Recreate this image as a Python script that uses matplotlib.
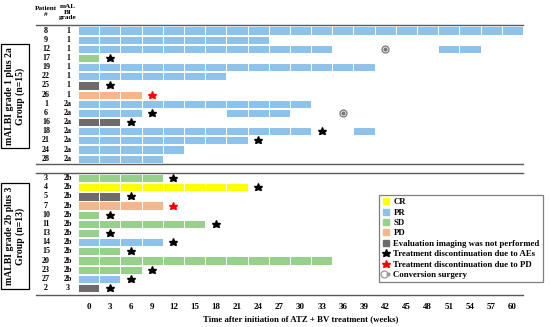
import matplotlib
matplotlib.use("Agg")
import matplotlib.pyplot as plt
import matplotlib.transforms as mtransforms
from matplotlib.lines import Line2D
from matplotlib.legend_handler import HandlerTuple
import numpy as np

# rows, top to bottom
patients_g1 = ["8", "9", "12", "17", "19", "22", "25", "26", "1", "6", "16", "18", "21", "24", "28"]
grades_g1 = ["1", "1", "1", "1", "1", "1", "1", "1", "2a", "2a", "2a", "2a", "2a", "2a", "2a"]
patients_g2 = ["3", "4", "5", "7", "10", "11", "13", "14", "15", "20", "23", "27", "2"]
grades_g2 = ["2b"] * 12 + ["3"]

# bar segments: patient, response, first and last 3-week block (weeks)
seg_patient = ["8", "9", "12", "12", "17", "19", "22", "25", "26", "1", "6", "6", "16",
               "18", "18", "21", "24", "28",
               "3", "4", "5", "7", "10", "11", "13", "14", "15", "20", "23", "27", "2"]
seg_resp = ["PR", "PR", "PR", "PR", "SD", "PR", "PR", "NE", "PD", "PR", "PR", "PR", "NE",
            "PR", "PR", "PR", "PR", "PR",
            "SD", "CR", "NE", "PD", "SD", "SD", "SD", "PR", "SD", "SD", "SD", "PR", "NE"]
seg_first = [0, 0, 0, 51, 0, 0, 0, 0, 0, 0, 0, 21, 0,
             0, 39, 0, 0, 0,
             0, 0, 0, 0, 0, 0, 0, 0, 0, 0, 0, 0, 0]
seg_last = [60, 24, 33, 54, 0, 39, 18, 0, 6, 30, 6, 27, 3,
            30, 39, 21, 12, 9,
            9, 21, 3, 9, 0, 15, 0, 9, 3, 33, 6, 3, 0]

# treatment discontinuation markers
star_patient = ["17", "25", "26", "6", "16", "18", "21",
                "3", "4", "5", "7", "10", "11", "13", "14", "15", "23", "27", "2"]
star_week = [3, 3, 9, 9, 6, 33, 24,
             12, 24, 6, 12, 3, 18, 3, 12, 6, 9, 6, 3]
star_kind = ["AE", "AE", "PD", "AE", "AE", "AE", "AE",
             "AE", "AE", "AE", "PD", "AE", "AE", "AE", "AE", "AE", "AE", "AE", "AE"]

surgery_patient = ["12", "6"]
surgery_week = [42, 36]

resp_colors = {"CR": "#FFFF00", "PR": "#8DC3EA", "SD": "#97D08A",
               "PD": "#F7B58A", "NE": "#6F6B6B"}
star_colors = {"AE": "black", "PD": "#FF0000"}
line_c = "#5a5a5a"

serif = "Liberation Serif"

gap = 1.13
row_y = {}
for i, p in enumerate(patients_g1):
    row_y[p] = i
for j, p in enumerate(patients_g2):
    row_y[p] = len(patients_g1) + gap + j

W, H = 550, 327
fig = plt.figure(figsize=(5.5, 3.27), dpi=100)
ax = fig.add_axes([78 / W, 1 - 295 / H, (523 - 78) / W, (295 - 25) / H])
ax.set_xlim(-1.5, 61.5)
ax.set_ylim(28.9, -0.61)
for s in ax.spines.values():
    s.set_visible(False)
ax.set_yticks([])

for p, r, a, b in zip(seg_patient, seg_resp, seg_first, seg_last):
    weeks = np.arange(a, b + 1, 3)
    ax.barh([row_y[p]] * len(weeks), 3, left=weeks - 1.5, height=0.9,
            color=resp_colors[r], edgecolor="white", linewidth=0.7)

for p, w, k in zip(star_patient, star_week, star_kind):
    ax.plot(w, row_y[p], marker="*", color=star_colors[k], markersize=6.2,
            linestyle="none")

for p, w in zip(surgery_patient, surgery_week):
    ax.plot(w, row_y[p], marker="o", mfc="white", mec="#777777", mew=0.9,
            markersize=5, linestyle="none")
    ax.plot(w, row_y[p], marker="o", color="#777777", markersize=2, linestyle="none")

# horizontal rules
xmin = (36 - 78) / (523 - 78)
n1 = len(patients_g1)
for y in [-0.61, n1 - 0.4, n1 + gap - 0.58, 28.9]:
    ax.axhline(y, xmin=xmin, xmax=1, color=line_c, lw=1.0, clip_on=False)

ax.set_xticks(range(0, 61, 3))
ax.tick_params(axis="x", length=0, pad=6)
for lab in ax.get_xticklabels():
    lab.set_fontfamily(serif)
    lab.set_fontweight("bold")
    lab.set_fontsize(6.5)
ax.set_xlabel("Time after initiation of ATZ + BV treatment (weeks)",
              fontfamily=serif, fontweight="bold", fontsize=6.3, labelpad=3)

# row labels
tr = mtransforms.blended_transform_factory(fig.transFigure, ax.transData)
for p in patients_g1 + patients_g2:
    ax.text(46 / W, row_y[p], p, transform=tr, ha="center", va="center",
            fontfamily=serif, fontweight="bold", fontsize=5.8)
for p, g in zip(patients_g1 + patients_g2, grades_g1 + grades_g2):
    ax.text(68 / W, row_y[p], g, transform=tr, ha="center", va="center",
            fontfamily=serif, fontweight="bold", fontsize=5.8)

fig.text(46 / W, 1 - 11 / H, "Patient\n#", ha="center", va="center",
         fontfamily=serif, fontweight="bold", fontsize=5.2, linespacing=1.25)
fig.text(68 / W, 1 - 12 / H, "mAL\nBI\ngrade", ha="center", va="center",
         fontfamily=serif, fontweight="bold", fontsize=5.2, linespacing=1.1)

box = dict(boxstyle="square,pad=0.35", fc="white", ec="black", lw=0.9)
fig.text(15 / W, 1 - 96 / H, "mALBI grade 1 plus 2a\nGroup (n=15)", rotation=90,
         ha="center", va="center", fontfamily=serif, fontweight="bold",
         fontsize=7, bbox=box, linespacing=1.3)
fig.text(15 / W, 1 - 236 / H, "mALBI grade 2b plus 3\nGroup (n=13)", rotation=90,
         ha="center", va="center", fontfamily=serif, fontweight="bold",
         fontsize=7, bbox=box, linespacing=1.3)

# legend
def sq(c):
    return Line2D([], [], marker="s", color=c, markersize=5, linestyle="none")

handles = [sq(resp_colors["CR"]), sq(resp_colors["PR"]), sq(resp_colors["SD"]),
           sq(resp_colors["PD"]), sq(resp_colors["NE"]),
           Line2D([], [], marker="*", color="black", markersize=6.2, linestyle="none"),
           Line2D([], [], marker="*", color="#FF0000", markersize=6.2, linestyle="none"),
           (Line2D([], [], marker="o", mfc="white", mec="#999999", mew=0.9,
                   markersize=5, linestyle="none"),
            Line2D([], [], marker="o", color="#999999", markersize=2, linestyle="none"))]
labels = ["CR", "PR", "SD", "PD", "Evaluation imaging was not performed",
          "Treatment discontinuation due to AEs", "Treatment discontinuation due to PD",
          "Conversion surgery"]
leg = fig.legend(handles, labels, loc="upper left",
                 bbox_to_anchor=(379 / W, 1 - 195 / H), frameon=True, fancybox=False,
                 edgecolor="#7f7f7f", framealpha=1, borderaxespad=0,
                 handlelength=0.9, handletextpad=0.4, labelspacing=0.26,
                 borderpad=0.35, handler_map={tuple: HandlerTuple(ndivide=None, pad=0)},
                 prop={"family": serif, "weight": "bold", "size": 6.3})
leg.get_frame().set_linewidth(0.9)

fig.savefig("out.png", dpi=100)
